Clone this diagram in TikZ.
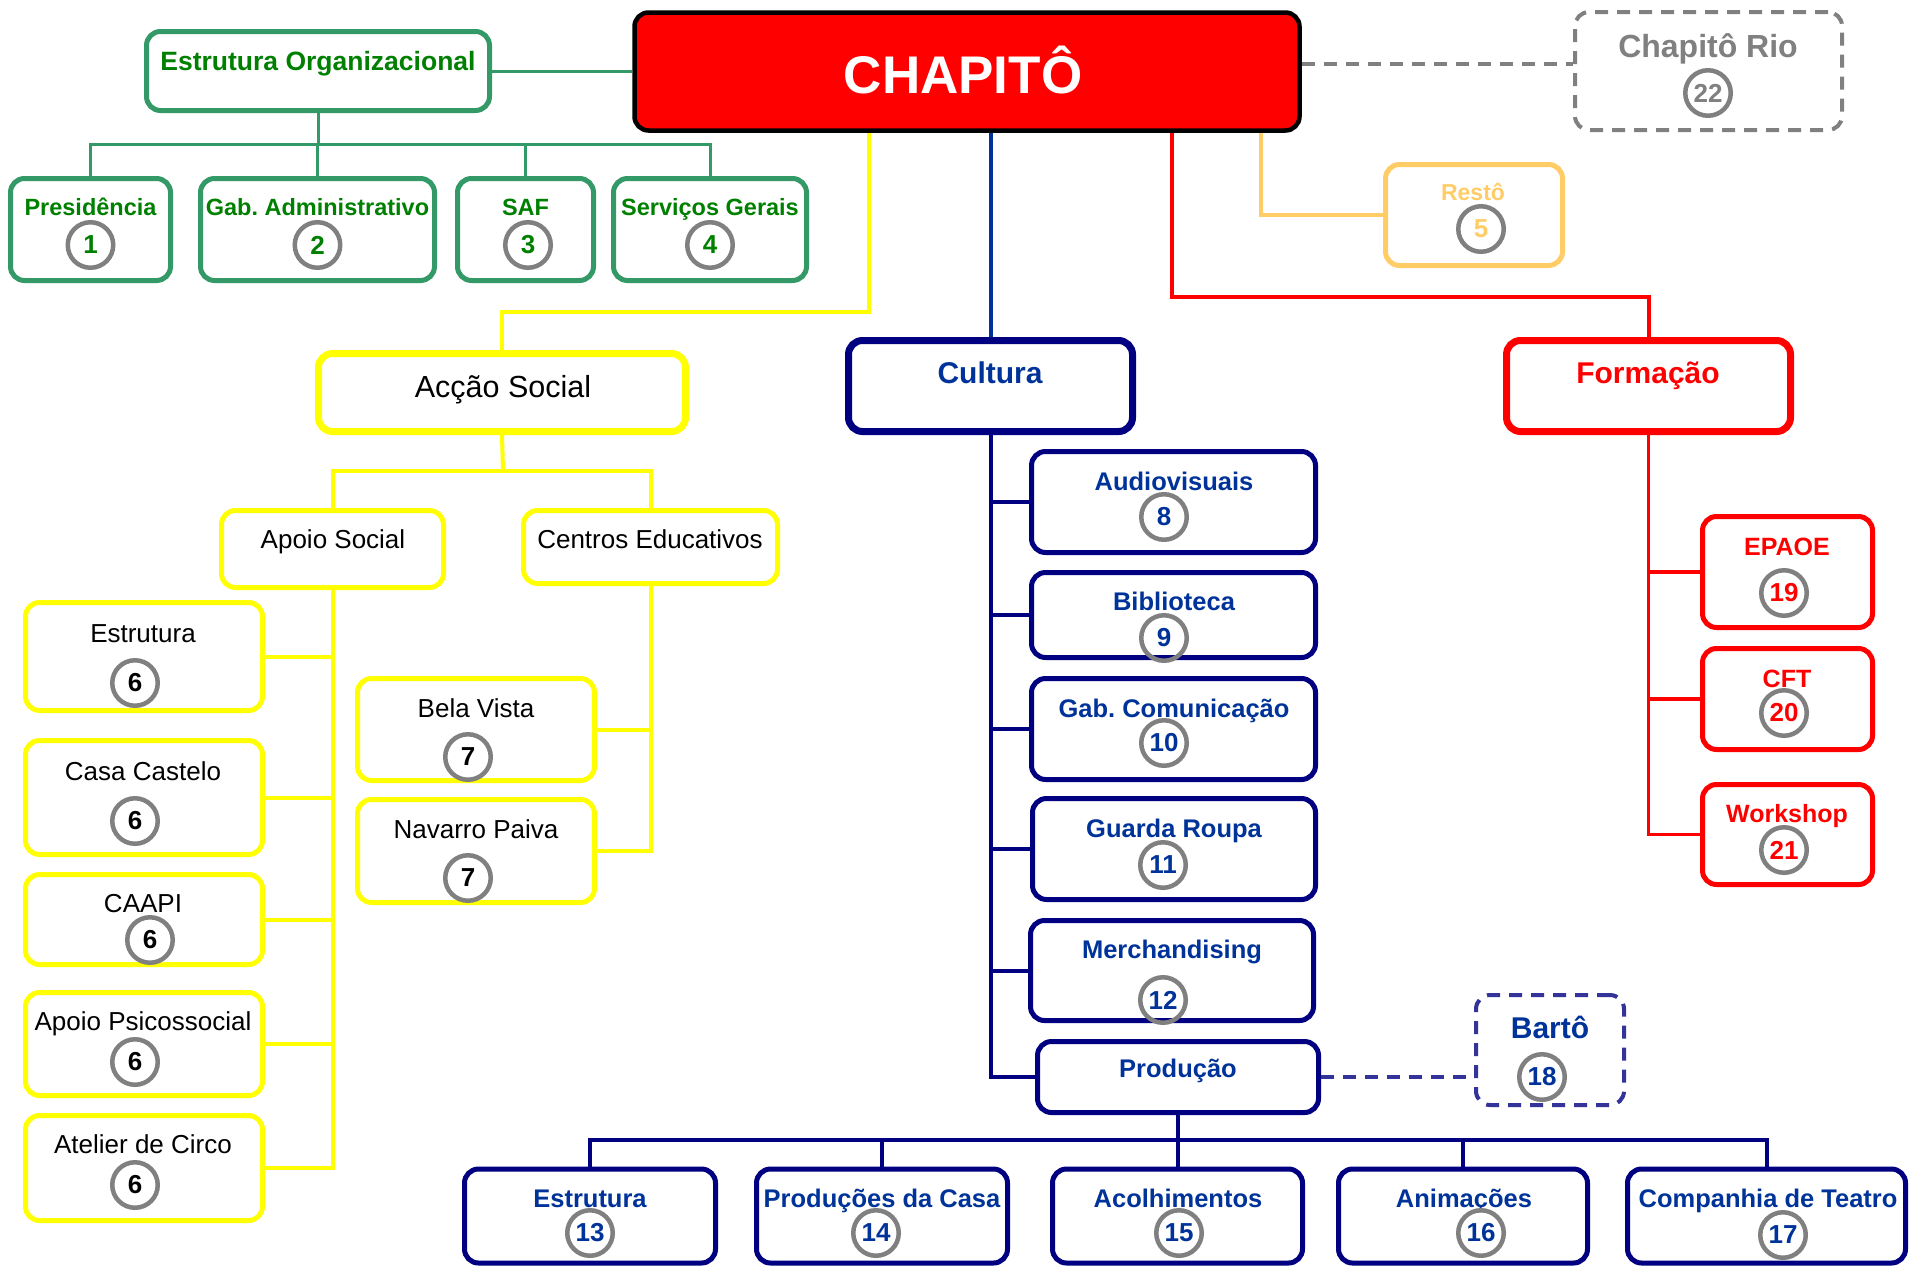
\documentclass[tikz,border=0pt]{standalone}
\usepackage{fontspec}
\setmainfont{Liberation Sans}
\frenchspacing
\definecolor{gbord}{HTML}{339966}
\definecolor{gtext}{HTML}{008000}
\definecolor{yel}{HTML}{FFFF00}
\definecolor{navy}{HTML}{000080}
\definecolor{btext}{HTML}{003399}
\definecolor{ored}{HTML}{FF0000}
\definecolor{orng}{HTML}{FFCC66}
\definecolor{cgrey}{HTML}{808080}
\definecolor{bdash}{HTML}{333399}
\newcommand\fsz[1]{\fontsize{#1}{#1}\selectfont}
\tikzset{
  bx/.style={draw, rounded corners=14pt, inner sep=0pt, line width=5pt},
  gbox/.style={bx, draw=gbord},
  ybox/.style={bx, draw=yel},
  nbox/.style={bx, draw=navy},
  rbox/.style={bx, draw=ored},
  numc/.style={circle, draw=cgrey, line width=4.5pt, minimum size=45.5pt, inner sep=0pt, font=\fsz{26}\bfseries},
  lbl/.style={anchor=base, inner sep=0pt},
  gl/.style={draw=gbord, line width=3pt},
  yl/.style={draw=yel, line width=4pt},
  nl/.style={draw=navy, line width=4pt},
  rl/.style={draw=ored, line width=3.5pt},
  dashline/.style={line width=4pt, dash pattern=on 13pt off 9pt},
}
\begin{document}
\begin{tikzpicture}[x=1pt,y=-1pt]
\useasboundingbox[fill=white] (0,0) rectangle (1911,1267);

% ---------- top ----------
\node[bx, fill=ored, draw=black, line width=4.5pt, minimum width=665pt, minimum height=118pt] (chap) at (967,71.5) {};
\node[lbl, text=white, font=\fsz{53}\bfseries] (chapt) at (963,93) {CHAPITÔ};

% green group
\node[gbox, minimum width=343pt, minimum height=79pt] (eo) at (318,71) {};
\node[lbl, text=gtext, font=\fsz{26.5}\bfseries] (eot) at (318,70) {Estrutura Organizacional};
\node[gbox, minimum width=160pt, minimum height=102pt] (pres) at (90.5,229.5) {};
\node[gbox, minimum width=234pt, minimum height=102pt] (gab) at (317.5,229.5) {};
\node[gbox, minimum width=136pt, minimum height=102pt] (saf) at (525.5,229.5) {};
\node[gbox, minimum width=193pt, minimum height=102pt] (serv) at (710,229.5) {};
\node[lbl, text=gtext, font=\fsz{23.5}\bfseries] (prest) at (90.5,215) {Presidência};
\node[lbl, text=gtext, font=\fsz{23.5}\bfseries] (gabt) at (317.5,215) {Gab. Administrativo};
\node[lbl, text=gtext, font=\fsz{23.5}\bfseries] (saft) at (525.5,215) {SAF};
\node[lbl, text=gtext, font=\fsz{23.5}\bfseries] (servt) at (710,215) {Serviços Gerais};
\node[numc, text=gtext] (c1) at (90.5,245) {1};
\node[numc, text=gtext] (c2) at (317.5,245) {2};
\node[numc, text=gtext] (c3) at (528,245) {3};
\node[numc, text=gtext] (c4) at (710,245) {4};

% Chapitô Rio
\node[bx, draw=cgrey, dashline, minimum width=267pt, minimum height=118pt] (rio) at (1708.5,71) {};
\node[lbl, text=cgrey, font=\fsz{32}\bfseries] (riot) at (1708,57) {Chapitô Rio};
\node[numc, text=cgrey] (c22) at (1708,93) {22};

% Restô
\node[bx, draw=orng, minimum width=177pt, minimum height=101pt] (resto) at (1474,215) {};
\node[lbl, text=orng, font=\fsz{23}\bfseries] (restot) at (1473,200) {Restô};
\node[numc, text=orng] (c5) at (1481,229) {5};

% ---------- Formação ----------
\node[rbox, line width=7pt, minimum width=284pt, minimum height=91pt] (form) at (1648.5,386) {};
\node[lbl, text=ored, font=\fsz{30}\bfseries] (formt) at (1648,383) {Formação};
\node[rbox, minimum width=170pt, minimum height=111pt] (epaoe) at (1787.5,572) {};
\node[rbox, minimum width=170pt, minimum height=101pt] (cft) at (1787.5,699) {};
\node[rbox, minimum width=170pt, minimum height=100pt] (work) at (1787.5,834.5) {};
\node[lbl, text=ored, font=\fsz{25}\bfseries] (epaoet) at (1787,555) {EPAOE};
\node[lbl, text=ored, font=\fsz{25}\bfseries] (cftt) at (1787,687) {CFT};
\node[lbl, text=ored, font=\fsz{25}\bfseries] (workt) at (1787,822) {Workshop};
\node[numc, text=ored] (c19) at (1784,593) {19};
\node[numc, text=ored] (c20) at (1784,713) {20};
\node[numc, text=ored] (c21) at (1784,850) {21};

% ---------- Cultura ----------
\node[nbox, line width=7pt, minimum width=284pt, minimum height=91pt] (cult) at (990.5,386) {};
\node[lbl, text=btext, font=\fsz{30}\bfseries] (cultt) at (990,383) {Cultura};
\node[nbox, minimum width=284pt, minimum height=101pt] (audio) at (1173.5,502) {};
\node[nbox, minimum width=284pt, minimum height=85pt] (bib) at (1173.5,615) {};
\node[nbox, minimum width=284pt, minimum height=101pt] (gabc) at (1173.5,729) {};
\node[nbox, minimum width=283pt, minimum height=101pt] (guarda) at (1174,849) {};
\node[nbox, minimum width=283pt, minimum height=100pt] (merch) at (1172,970.5) {};
\node[nbox, minimum width=281pt, minimum height=71pt] (prod) at (1178,1077) {};
\node[lbl, text=btext, font=\fsz{25.5}\bfseries] (audiot) at (1174,490) {Audiovisuais};
\node[lbl, text=btext, font=\fsz{25.5}\bfseries] (bibt) at (1174,610) {Biblioteca};
\node[lbl, text=btext, font=\fsz{25.5}\bfseries] (gabct) at (1174,717) {Gab. Comunicação};
\node[lbl, text=btext, font=\fsz{25.5}\bfseries] (guardat) at (1174,837) {Guarda Roupa};
\node[lbl, text=btext, font=\fsz{25.5}\bfseries] (mercht) at (1172,958) {Merchandising};
\node[lbl, text=btext, font=\fsz{25.5}\bfseries] (prodt) at (1178,1077) {Produção};
\node[numc, text=btext] (c8) at (1164,517) {8};
\node[numc, text=btext] (c9) at (1164,638) {9};
\node[numc, text=btext] (c10) at (1164,743) {10};
\node[numc, text=btext] (c11) at (1163,865) {11};
\node[numc, text=btext] (c12) at (1163,1000) {12};

% Bartô
\node[bx, draw=bdash, dashline, minimum width=148pt, minimum height=110pt] (barto) at (1550,1050) {};
\node[lbl, text=btext, font=\fsz{30}\bfseries] (bartot) at (1550,1038) {Bartô};
\node[numc, text=btext] (c18) at (1542,1077) {18};

% bottom row
\node[nbox, minimum width=251pt, minimum height=94pt] (e13) at (590,1216) {};
\node[nbox, minimum width=251pt, minimum height=94pt] (e14) at (882,1216) {};
\node[nbox, minimum width=250pt, minimum height=94pt] (e15) at (1177.5,1216) {};
\node[nbox, minimum width=249pt, minimum height=94pt] (e16) at (1463,1216) {};
\node[nbox, minimum width=278pt, minimum height=94pt] (e17) at (1766.5,1216) {};
\node[lbl, text=btext, font=\fsz{25.5}\bfseries] (e13t) at (590,1207) {Estrutura};
\node[lbl, text=btext, font=\fsz{25.5}\bfseries] (e14t) at (882,1207) {Produções da Casa};
\node[lbl, text=btext, font=\fsz{25.5}\bfseries] (e15t) at (1178,1207) {Acolhimentos};
\node[lbl, text=btext, font=\fsz{25.5}\bfseries] (e16t) at (1464,1207) {Animações};
\node[lbl, text=btext, font=\fsz{25.5}\bfseries] (e17t) at (1768,1207) {Companhia de Teatro};
\node[numc, text=btext] (c13) at (590,1233) {13};
\node[numc, text=btext] (c14) at (876,1233) {14};
\node[numc, text=btext] (c15) at (1179,1233) {15};
\node[numc, text=btext] (c16) at (1481,1233) {16};
\node[numc, text=btext] (c17) at (1783,1235) {17};

% ---------- Acção Social ----------
\node[ybox, line width=7pt, minimum width=367pt, minimum height=78pt] (acao) at (502,392.5) {};
\node[lbl, font=\fsz{30.5}] (acaot) at (503,397) {Acção Social};
\node[ybox, minimum width=222pt, minimum height=77pt] (apoio) at (332.5,549) {};
\node[ybox, minimum width=254pt, minimum height=73pt] (centros) at (650.5,547) {};
\node[lbl, font=\fsz{26}] (apoiot) at (333,548) {Apoio Social};
\node[lbl, font=\fsz{26}] (centrost) at (650,548) {Centros Educativos};

\node[ybox, minimum width=237pt, minimum height=108pt] (estr) at (144,656.5) {};
\node[ybox, minimum width=237pt, minimum height=114pt] (casa) at (144,797.5) {};
\node[ybox, minimum width=237pt, minimum height=90pt] (caapi) at (144,919.5) {};
\node[ybox, minimum width=237pt, minimum height=103pt] (psic) at (144,1044) {};
\node[ybox, minimum width=237pt, minimum height=105pt] (atel) at (144,1168) {};
\node[lbl, font=\fsz{26}] (estrt) at (143,642) {Estrutura};
\node[lbl, font=\fsz{26}] (casat) at (143,780) {Casa Castelo};
\node[lbl, font=\fsz{26}] (caapit) at (143,912) {CAAPI};
\node[lbl, font=\fsz{26}] (psict) at (143,1030) {Apoio Psicossocial};
\node[lbl, font=\fsz{26}] (atelt) at (143,1153) {Atelier de Circo};
\node[numc] (c6a) at (135,683) {6};
\node[numc] (c6b) at (135,821) {6};
\node[numc] (c6c) at (150,940) {6};
\node[numc] (c6d) at (135,1062) {6};
\node[numc] (c6e) at (135,1185) {6};

\node[ybox, minimum width=237pt, minimum height=102pt] (bela) at (476,729.5) {};
\node[ybox, minimum width=237pt, minimum height=103pt] (nav) at (476,851) {};
\node[lbl, font=\fsz{26}] (belat) at (476,717) {Bela Vista};
\node[lbl, font=\fsz{26}] (navt) at (476,838) {Navarro Paiva};
\node[numc] (c7a) at (468,757) {7};
\node[numc] (c7b) at (468,878) {7};

% ---------- connectors ----------
\coordinate (gbar) at (318,144);
\draw[gl] (eo.east) -- (eo.east -| chap.west);
\draw[gl] (eo.south) -- (gbar);
\draw[gl] (pres.north) |- (gbar) -| (serv.north);
\draw[gl] (gab.north) -- (gab.north |- gbar);
\draw[gl] (saf.north) -- (saf.north |- gbar);

\coordinate (rioy) at (0,64);
\draw[draw=cgrey, dashline] (chap.east |- rioy) -- (rio.west |- rioy);

\coordinate (ox) at (1261,0);
\draw[draw=orng, line width=4pt] (chap.south -| ox) |- (resto.west);

\coordinate (rx) at (1172,297);
\draw[draw=ored, line width=4pt] (chap.south -| rx) -- (rx) -| (form.north);

\draw[draw=btext, line width=4pt] (chap.south -| cult.north) -- (cult.north);

\coordinate (yx) at (869,312);
\draw[yl] (chap.south -| yx) -- (yx) -| (acao.north);

% Formação children
\draw[rl] (form.south) |- (work.west);
\draw[rl] (form.south |- epaoe.west) -- (epaoe.west);
\draw[rl] (form.south |- cft.west) -- (cft.west);

% Cultura children
\draw[nl] (cult.south) |- (prod.west);
\draw[nl] (cult.south |- audio.west) -- (audio.west);
\draw[nl] (cult.south |- bib.west) -- (bib.west);
\draw[nl] (cult.south |- gabc.west) -- (gabc.west);
\draw[nl] (cult.south |- guarda.west) -- (guarda.west);
\draw[nl] (cult.south |- merch.west) -- (merch.west);

\coordinate (rowbar) at (1178,1140);
\draw[nl] (prod.south) -- (prod.south |- rowbar);
\draw[nl] (e13.north) |- (rowbar) -| (e17.north);
\draw[nl] (e14.north) -- (e14.north |- rowbar);
\draw[nl] (e15.north) -- (e15.north |- rowbar);
\draw[nl] (e16.north) -- (e16.north |- rowbar);

\draw[draw=bdash, dashline] (prod.east) -- (barto.west |- prod.east);

% Acção Social children
\coordinate (abar) at (503,471);
\draw[yl] (acao.south) -- (abar);
\draw[yl] (apoio.north) |- (abar) -| (centros.north);
\draw[yl] (apoio.south) |- (atel.east);
\draw[yl] (apoio.south |- estr.east) -- (estr.east);
\draw[yl] (apoio.south |- casa.east) -- (casa.east);
\draw[yl] (apoio.south |- caapi.east) -- (caapi.east);
\draw[yl] (apoio.south |- psic.east) -- (psic.east);
\draw[yl] (centros.south) |- (nav.east);
\draw[yl] (centros.south |- bela.east) -- (bela.east);
\end{tikzpicture}
\end{document}
